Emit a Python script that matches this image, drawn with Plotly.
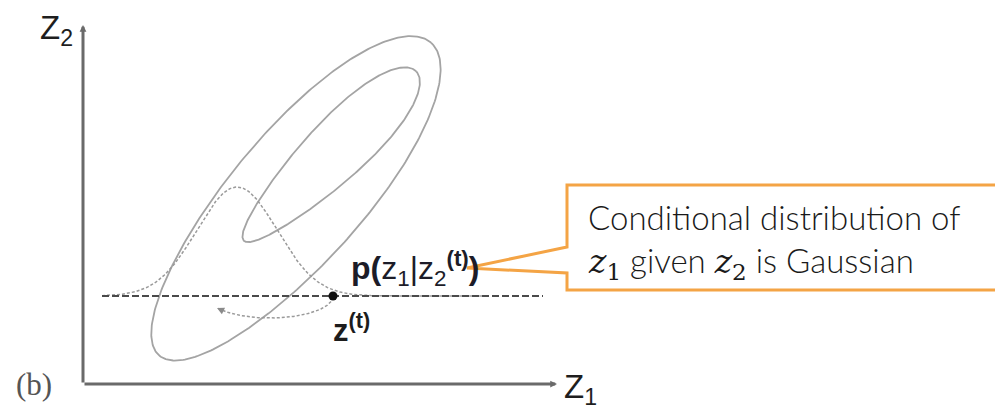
import numpy as np
import plotly.graph_objects as go

# ---- diagram values (z1, z2 units; 1 unit = 40 px on screen) ----
# two probability contours of the joint density:
# centre, semi-axes, tilt (deg) and an egg factor that widens the upper end
contour_cx = [5.30, 6.175]
contour_cy = [4.625, 5.70]
contour_a = [5.18, 3.02]
contour_b = [1.64, 0.74]
contour_tilt = [49.0, 44.5]
contour_egg = [0.06, 0.25]

# current Gibbs state z^(t) and the conditional p(z1 | z2^(t))
z_t = [6.25, 2.2]
cond_mean = 3.85
cond_sd = 1.0
cond_peak = 2.725
z1_next = 3.1

# extents of the slice line and the axes
slice_z1 = [0.475, 11.5]
axis_z1_max = 11.85
axis_z2_max = 8.975

PX = 40.0
W, H = 995, 410
ORIGIN = (83, 384)

GREY_LINE = "#a4a4a4"
AXIS = "#6a6a6a"
ORANGE = "#F4A445"


def to_data(px, py):
    return (px - ORIGIN[0]) / PX, (ORIGIN[1] - py) / PX


fig = go.Figure()

# contours
t = np.linspace(0, 2 * np.pi, 361)
for cx, cy, a, b, tilt, k in zip(contour_cx, contour_cy, contour_a, contour_b,
                                 contour_tilt, contour_egg):
    th = np.radians(tilt)
    u = a * np.cos(t)
    v = b * np.sin(t) * (1 + k * np.cos(t))
    ex = cx + u * np.cos(th) - v * np.sin(th)
    ey = cy + u * np.sin(th) + v * np.cos(th)
    fig.add_trace(go.Scatter(x=ex, y=ey, mode="lines",
                             line=dict(color=GREY_LINE, width=1.8),
                             hoverinfo="skip", showlegend=False))

# conditional density drawn above the slice z2 = z2^(t)
gz = np.linspace(slice_z1[0], 10.0, 300)
gy = z_t[1] + cond_peak * np.exp(-0.5 * ((gz - cond_mean) / cond_sd) ** 2)
fig.add_trace(go.Scatter(x=gz, y=gy, mode="lines",
                         line=dict(color="#9a9a9a", width=1.5, dash="3px,2px"),
                         hoverinfo="skip", showlegend=False))

# slice line
fig.add_trace(go.Scatter(x=slice_z1, y=[z_t[1], z_t[1]], mode="lines",
                         line=dict(color="#4a4a4a", width=2.2, dash="7px,3px"),
                         hoverinfo="skip", showlegend=False))

# jump from z^(t) to the new sample along the slice
cx_arc = (z_t[0] + z1_next) / 2
rx_arc = (z_t[0] - z1_next) / 2
ry_arc = 0.55
ta = np.linspace(0.25, 2.57, 80)
arc_x = cx_arc + rx_arc * np.cos(ta)
arc_y = z_t[1] - ry_arc * np.sin(ta)
fig.add_trace(go.Scatter(x=arc_x, y=arc_y, mode="lines",
                         line=dict(color="#9a9a9a", width=1.5, dash="3px,2px"),
                         hoverinfo="skip", showlegend=False))
fig.add_annotation(x=arc_x[-1], y=arc_y[-1], ax=arc_x[-4], ay=arc_y[-4],
                   xref="x", yref="y", axref="x", ayref="y", text="",
                   showarrow=True, arrowhead=2, arrowsize=1.2, arrowwidth=1.2,
                   arrowcolor="#8a8a8a", standoff=0)

# current state
fig.add_trace(go.Scatter(x=[z_t[0]], y=[z_t[1]], mode="markers",
                         marker=dict(color="#111111", size=9),
                         hoverinfo="skip", showlegend=False))

# axes with arrow tips
fig.add_annotation(x=0, y=axis_z2_max, ax=0, ay=0, xref="x", yref="y",
                   axref="x", ayref="y", text="", showarrow=True, arrowhead=2,
                   arrowsize=0.45, arrowwidth=3, arrowcolor=AXIS, standoff=0)
fig.add_annotation(x=axis_z1_max, y=0, ax=0, ay=0, xref="x", yref="y",
                   axref="x", ayref="y", text="", showarrow=True, arrowhead=2,
                   arrowsize=0.45, arrowwidth=3, arrowcolor=AXIS, standoff=0)

label_font = dict(family="Liberation Sans, Arial", size=33, color="#1e1e1e")
x, y = to_data(38, 30)
fig.add_annotation(x=x, y=y, text="Z<sub>2</sub>", showarrow=False,
                   xanchor="left", yanchor="middle", font=label_font)
x, y = to_data(562, 389)
fig.add_annotation(x=x, y=y, text="Z<sub>1</sub>", showarrow=False,
                   xanchor="left", yanchor="middle", font=label_font)
x, y = to_data(34, 384)
fig.add_annotation(x=x, y=y, text="(b)", showarrow=False,
                   xanchor="center", yanchor="middle",
                   font=dict(family="Liberation Serif, serif", size=31, color="#555555"))

# labels of the conditional and of the state
x, y = to_data(349, 268)
fig.add_annotation(x=x, y=y,
                   text="<b>p(</b>z<sub>1</sub>|z<sub>2</sub><sup><b>(t)</b></sup><b>)</b>",
                   showarrow=False, xanchor="left", yanchor="middle",
                   font=dict(family="Liberation Sans, Arial", size=32, color="#1c1c28"))
x, y = to_data(331, 328)
fig.add_annotation(x=x, y=y, text="<b>z<sup>(t)</sup></b>",
                   showarrow=False, xanchor="left", yanchor="middle",
                   font=dict(family="Liberation Sans, Arial", size=31, color="#1c1c1c"))

# callout box pointing at the conditional
pts = [(1010, 185), (567, 185), (567, 247), (467, 268), (567, 273), (567, 290), (1010, 290)]
dpts = [to_data(px, py) for px, py in pts]
path = "M " + " L ".join(f"{px:.4f},{py:.4f}" for px, py in dpts)
fig.add_shape(type="path", path=path, xref="x", yref="y",
              line=dict(color=ORANGE, width=3), fillcolor="rgba(0,0,0,0)")

box_font = dict(family="Lato", size=33, color="#1a1a1a", weight=300)
math = "font-family:'DejaVu Serif';font-weight:400"
x, y = to_data(586, 217)
fig.add_annotation(x=x, y=y, text="Conditional distribution of", showarrow=False,
                   xanchor="left", yanchor="middle", font=box_font)
x, y = to_data(586, 262)
fig.add_annotation(
    x=x, y=y,
    text=(f"<span style=\"{math}\"><i>z</i><sub>1</sub></span> given "
          f"<span style=\"{math}\"><i>z</i><sub>2</sub></span> is Gaussian"),
    showarrow=False, xanchor="left", yanchor="middle", font=box_font)

fig.update_layout(
    width=W, height=H,
    margin=dict(l=0, r=0, t=0, b=0),
    paper_bgcolor="white", plot_bgcolor="white",
    xaxis=dict(range=[-ORIGIN[0] / PX, (W - ORIGIN[0]) / PX], visible=False, fixedrange=True),
    yaxis=dict(range=[-(H - ORIGIN[1]) / PX, ORIGIN[1] / PX], visible=False, fixedrange=True),
)

fig.write_html("out.html")
